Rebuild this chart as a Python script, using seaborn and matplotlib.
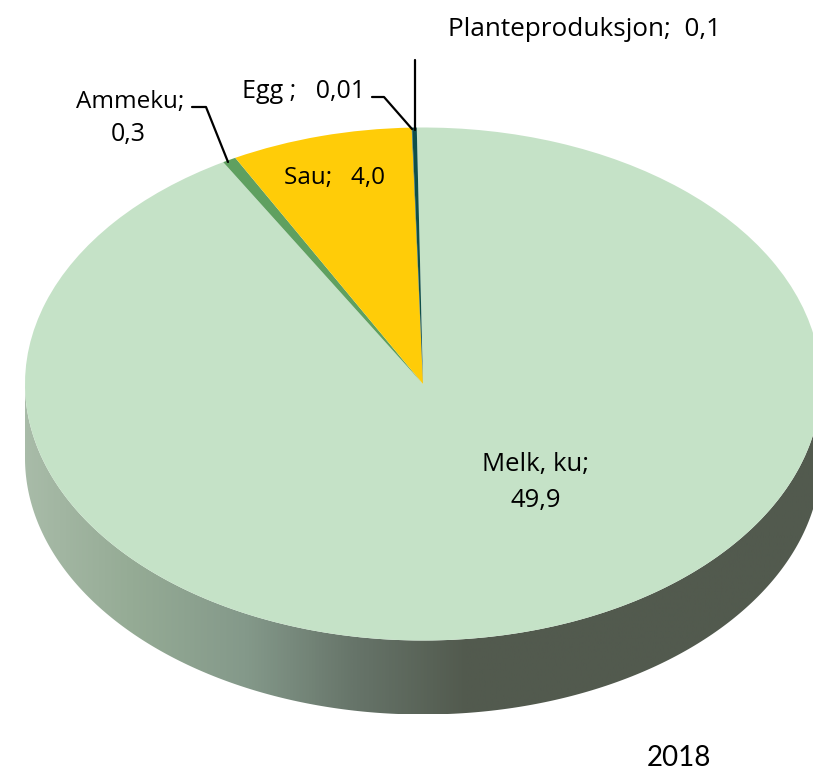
import matplotlib.pyplot as plt
import numpy as np
import seaborn as sns
from matplotlib.colors import LinearSegmentedColormap
from matplotlib.lines import Line2D
from matplotlib.patches import Polygon

# order is clockwise from the top of the pie
categories = ["Melk, ku", "Ammeku", "Sau", "Egg", "Planteproduksjon"]
values = [49.9, 0.3, 4.0, 0.01, 0.1]
year = "2018"

colors = ["#c5e2c7", "#5fa060", "#ffcc08", "#0f4f4a", "#0f4f4a"]

W, H = 813, 772
CX, CY = 423, 384      # centre of the ellipse in pixels
RX, RY = 398, 256.5    # radii of the ellipse in pixels
DEPTH = 74             # height of the side wall in pixels

sns.set_theme(style="white")
plt.rcParams['font.family'] = ['Open Sans', 'DejaVu Sans']

fig = plt.figure(figsize=(W / 100, H / 100), dpi=100)
ax = fig.add_axes([0, 0, 1, 1])


def fig_xy(x, y):
    # picture pixels (y down) to figure fractions
    return x / W, 1 - y / H


# top of the pie, ax.pie is stretched into an ellipse by the limits below
ax.pie(values, colors=colors, startangle=90.9, counterclock=False, radius=1,
       wedgeprops=dict(linewidth=0, zorder=2))
ax.set_aspect('auto')

# side wall with the left to right shading
wall_cmap = LinearSegmentedColormap.from_list("wall", [
    (0.00, "#a8bba8"), (0.13, "#95ab95"), (0.27, "#84998a"),
    (0.40, "#67756a"), (0.54, "#525a4e"), (1.00, "#525a4e")])
t = np.linspace(np.pi, 2 * np.pi, 300)
d = DEPTH / RY
edge_top = np.column_stack([np.cos(t), np.sin(t)])
edge_low = np.column_stack([np.cos(t), np.sin(t) - d])[::-1]
wall = Polygon(np.vstack([edge_top, edge_low]), closed=True,
               transform=ax.transData, facecolor="none", edgecolor="none")
ax.add_patch(wall)
im = ax.imshow(np.linspace(0, 1, 512)[None, :], cmap=wall_cmap, aspect='auto',
               extent=(-1, 1.05, -1 - d, 0.1), zorder=1)
im.set_clip_path(wall)

ax.set_xlim(-CX / RX, (W - CX) / RX)
ax.set_ylim((CY - H) / RY, CY / RY)
ax.axis('off')


def label(x, y, s, size=17.5, family=None):
    fx, fy = fig_xy(x, y)
    kw = {} if family is None else {'family': family}
    fig.text(fx, fy, s, fontsize=size, ha='center', va='center', color='black', **kw)


def leader(xs, ys):
    p = [fig_xy(x, y) for x, y in zip(xs, ys)]
    fig.add_artist(Line2D([a for a, _ in p], [b for _, b in p], color='black',
                          lw=1.6, transform=fig.transFigure, zorder=5))


val = dict(zip(categories, values))
label(584, 29, f"Planteproduksjon;  {val['Planteproduksjon']:.1f}".replace(".", ","), size=18.8)
label(303.5, 91, f"Egg ;   {val['Egg']:.2f}".replace(".", ","), size=18)
label(130, 102, "Ammeku;", size=17.5)
label(128, 135, f"{val['Ammeku']:.1f}".replace(".", ","), size=18)
label(334.5, 178, f"Sau;   {val['Sau']:.1f}".replace(".", ","), size=17.5)
label(536, 464, "Melk, ku;", size=18.5)
label(536, 500, f"{val['Melk, ku']:.1f}".replace(".", ","), size=18.5)
label(679, 758, year, size=20, family='Lato')

leader([192, 206, 228], [107, 107, 162])
leader([372, 384, 412], [97, 97, 129])
leader([415, 415], [60, 130])

plt.savefig('out.png', dpi=100)
